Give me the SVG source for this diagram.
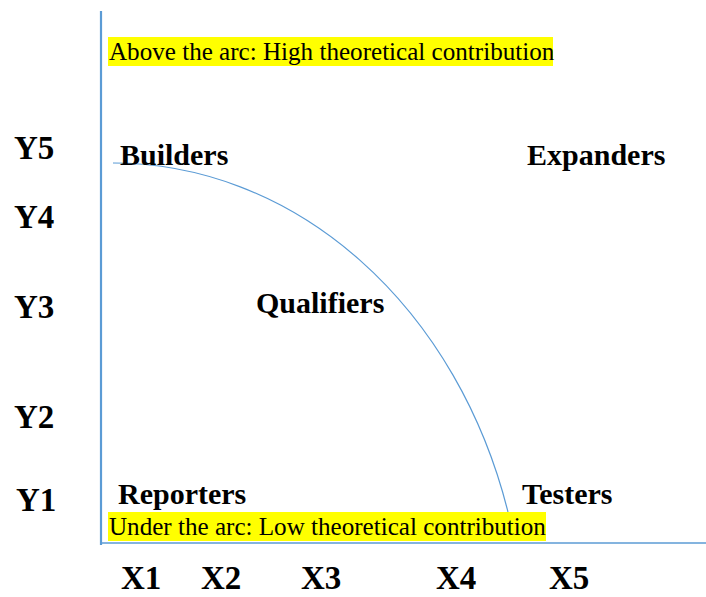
<svg xmlns="http://www.w3.org/2000/svg" width="706" height="597" viewBox="0 0 706 597">
<style>
.axis{stroke:#5B9BD5;fill:none}
.arc{stroke:#5B9BD5;stroke-width:1.2;fill:none}
.hl{fill:#FFFF00}
.note{font-family:"Liberation Serif","Times New Roman",serif;font-size:25.1px;fill:#000}
.cat{font-family:"Liberation Serif","Times New Roman",serif;font-size:30px;font-weight:bold;fill:#000}
.tick{font-family:"Liberation Serif","Times New Roman",serif;font-size:33px;font-weight:bold;fill:#000}
</style>
<rect width="706" height="597" fill="#fff"/>
<g id="connectors">
<line class="axis" x1="101" y1="11" x2="101" y2="545" stroke-width="2.2"/>
<line class="axis" x1="101" y1="543" x2="706" y2="543" stroke-width="1.6"/>
<path class="arc" d="M113,163 A411.9,487 0 0 1 508,512"/>
</g>
<g id="note-above">
<rect class="hl" x="108" y="37" width="445" height="29"/>
<text class="note" x="109" y="60">Above the arc: High theoretical contribution</text>
</g>
<g id="note-under">
<rect class="hl" x="108" y="512" width="438" height="29"/>
<text class="note" x="109" y="535">Under the arc: Low theoretical contribution</text>
</g>
<g id="builders"><text class="cat" x="120" y="165">Builders</text></g>
<g id="expanders"><text class="cat" x="527" y="165">Expanders</text></g>
<g id="qualifiers"><text class="cat" x="256" y="313">Qualifiers</text></g>
<g id="reporters"><text class="cat" x="118" y="504">Reporters</text></g>
<g id="testers"><text class="cat" x="522" y="504">Testers</text></g>
<g id="y-labels">
<text class="tick" x="14" y="159">Y5</text>
<text class="tick" x="14" y="228">Y4</text>
<text class="tick" x="14" y="318">Y3</text>
<text class="tick" x="14" y="428">Y2</text>
<text class="tick" x="16" y="511">Y1</text>
</g>
<g id="x-labels">
<text class="tick" x="121" y="589" font-size="34">X1</text>
<text class="tick" x="201" y="589" font-size="34">X2</text>
<text class="tick" x="301" y="589" font-size="34">X3</text>
<text class="tick" x="436" y="589" font-size="34">X4</text>
<text class="tick" x="549" y="589" font-size="34">X5</text>
</g>
</svg>
